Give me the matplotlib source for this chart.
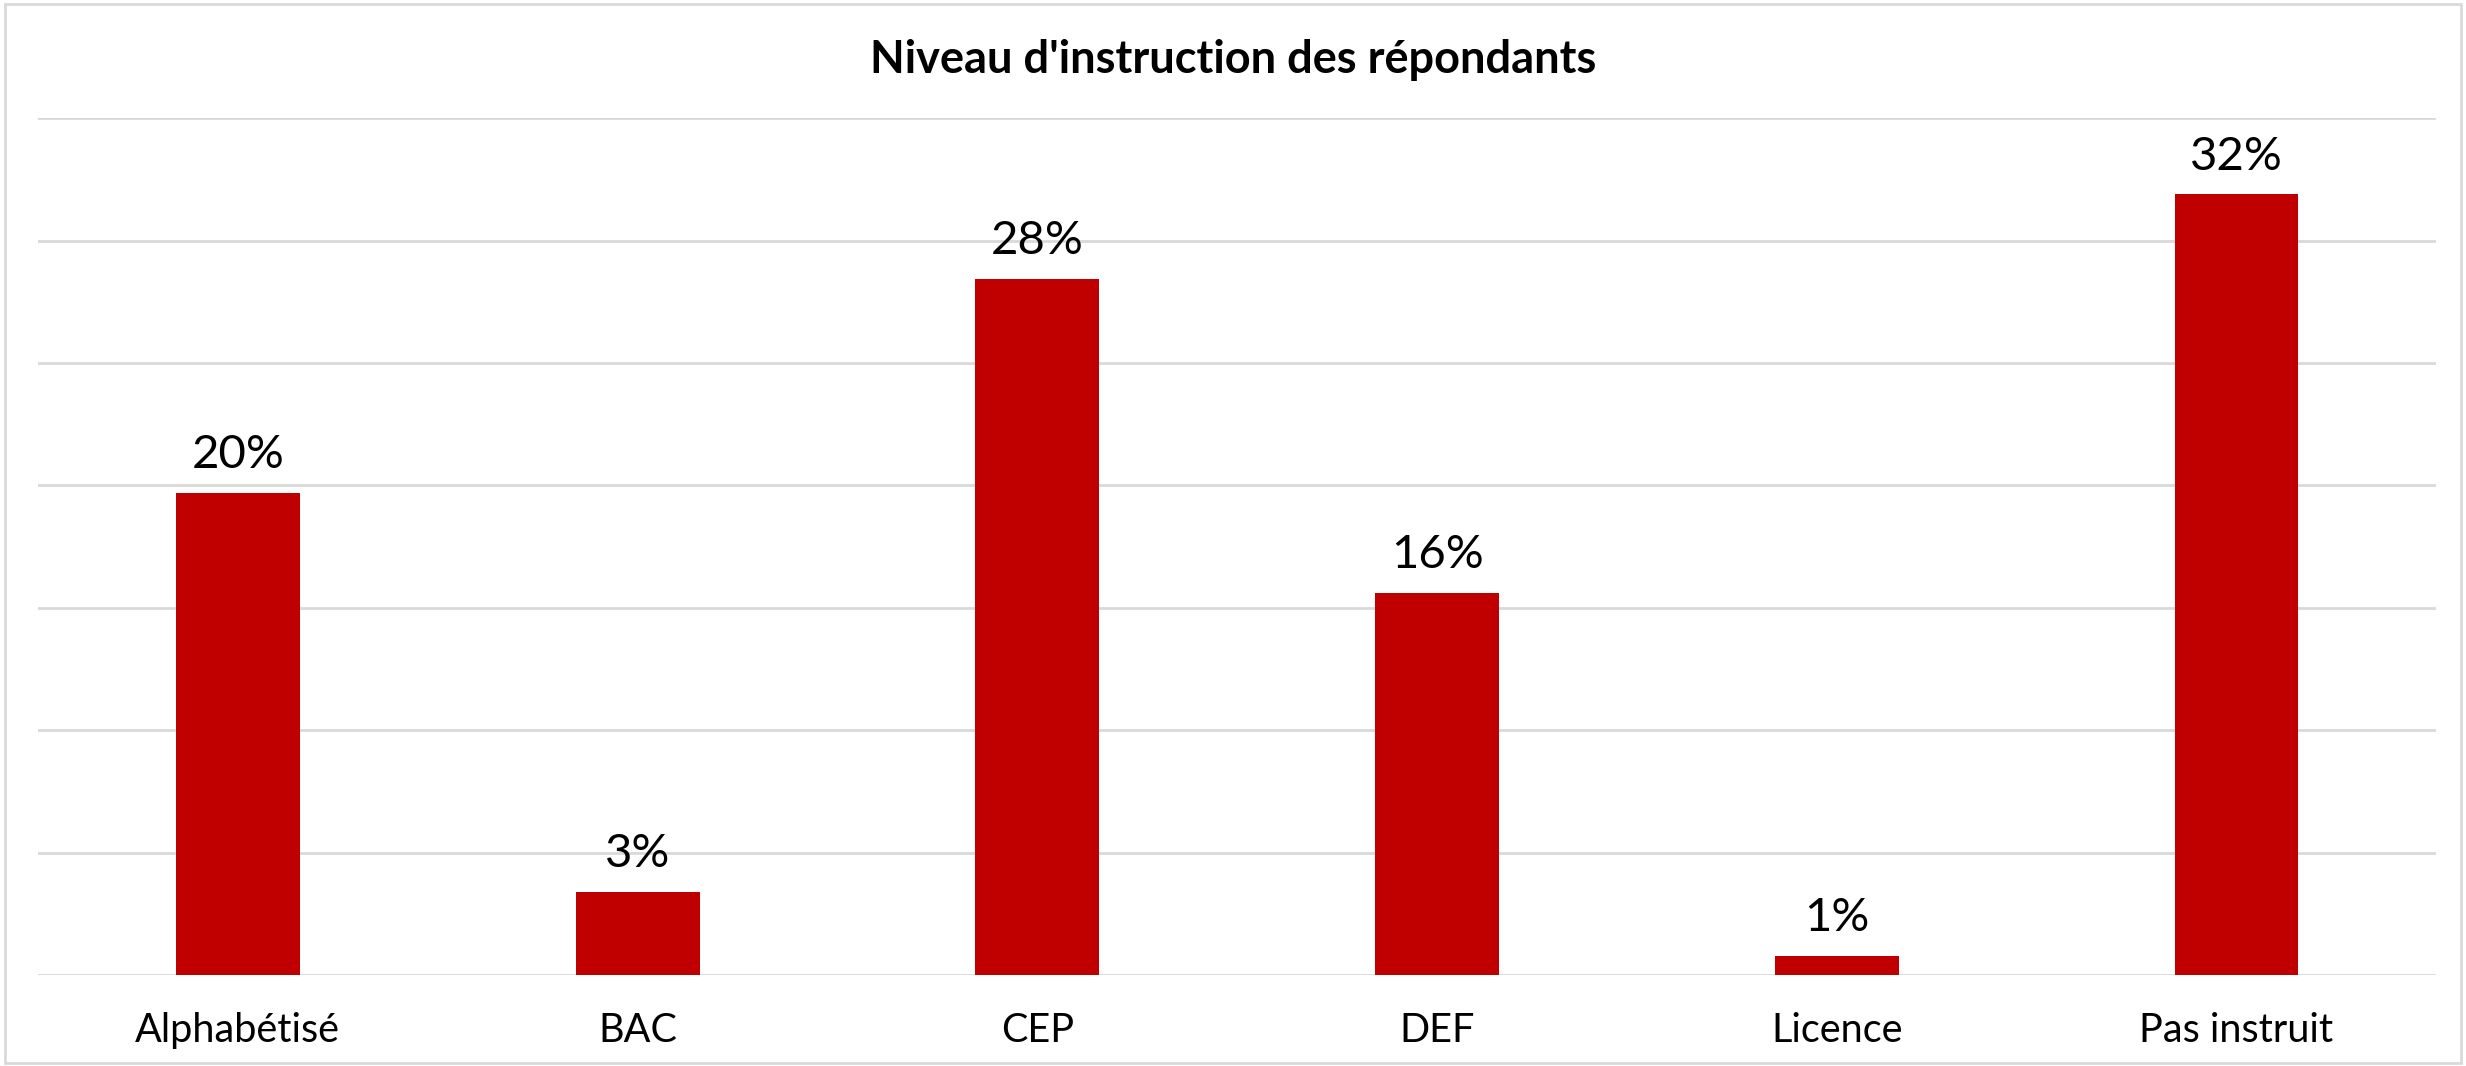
import matplotlib.pyplot as plt
from matplotlib.patches import Rectangle

# Data
categories = ["Alphabétisé", "BAC", "CEP", "DEF", "Licence", "Pas instruit"]
shares = [19.7, 3.4, 28.45, 15.6, 0.77, 31.9]   # percent
y_ticks = [0, 5, 10, 15, 20, 25, 30, 35]

plt.rcParams['font.family'] = ['Lato', 'DejaVu Sans']

fig = plt.figure(figsize=(24.66, 10.66), dpi=100)
ax = fig.add_axes([0.0154, 0.0854, 0.9726, 0.8036])

bars = ax.bar(range(len(categories)), shares, width=0.31, color='#C00000', zorder=3)

ax.set_xlim(-0.5, len(categories) - 0.5)
ax.set_ylim(0, 35)
ax.set_yticks(y_ticks)
ax.yaxis.grid(True, color='#D9D9D9', linewidth=2, zorder=0)
ax.tick_params(axis='y', left=False, labelleft=False)
ax.tick_params(axis='x', bottom=False, labelsize=28.5, pad=23)
ax.set_xticks(range(len(categories)))
ax.set_xticklabels(categories)
for side in ax.spines.values():
    side.set_visible(False)

for bar, v in zip(bars, shares):
    ax.annotate(f"{v:.0f}%", (bar.get_x() + bar.get_width() / 2, v),
                xytext=(0, 12), textcoords='offset points',
                ha='center', va='bottom', fontsize=34)

fig.text(0.5, 0.944, "Niveau d'instruction des répondants", ha='center', va='center',
         fontsize=32.5, fontweight='bold')

# outer chart border
fig.patches.append(Rectangle((0.002, 0.003), 0.996, 0.993, transform=fig.transFigure,
                             fill=False, edgecolor='#D9D9D9', linewidth=2))

fig.savefig("out.png", dpi=100)
